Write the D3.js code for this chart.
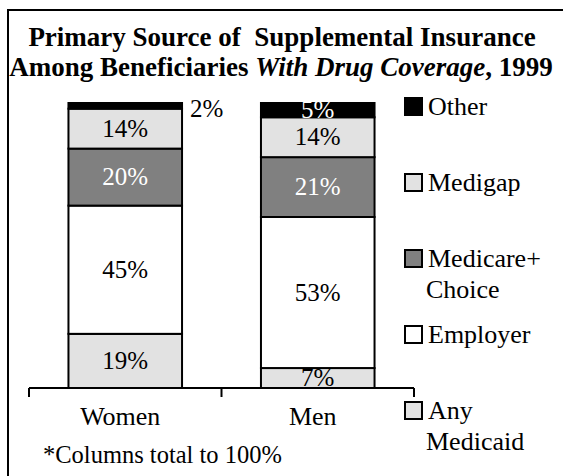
<!DOCTYPE html>
<html>
<head>
<meta charset="utf-8">
<script src="https://cdn.jsdelivr.net/npm/d3@7"></script>
<style>
  body { margin: 0; background: #fff; }
</style>
</head>
<body>
<svg id="chart" width="563" height="476" font-family="'Liberation Serif', 'Times New Roman', Times, serif"></svg>
<script>
// data (percent of beneficiaries, stacked bottom to top)
const categories = ["Women", "Men"]
const sources = ["Any Medicaid", "Employer", "Medicare+ Choice", "Medigap", "Other"]
const womenValues = [19, 45, 20, 14, 2]
const menValues = [7, 53, 21, 14, 5]
const legendLines = [["Any", "Medicaid"], ["Employer"], ["Medicare+", "Choice"], ["Medigap"], ["Other"]]

const fills = ["#e2e2e2", "#ffffff", "#808080", "#e2e2e2", "#000000"]
const labelFills = ["#000", "#000", "#fff", "#000", "#fff"]

const svg = d3.select("#chart")

// outer frame (runs off the right and bottom edges like the slide)
svg.append("rect")
    .attr("x", 8).attr("y", 10)
    .attr("width", 600).attr("height", 520)
    .attr("fill", "none").attr("stroke", "#000").attr("stroke-width", 2)

// title
const title = svg.append("text")
    .attr("text-anchor", "middle")
    .style("font-size", "27px")
    .style("font-weight", "bold")
title.append("tspan").attr("x", 282).attr("y", 46)
    .style("white-space", "pre")
    .text("Primary Source of  Supplemental Insurance")
const line2 = title.append("tspan").attr("x", 281).attr("y", 76)
line2.append("tspan").text("Among Beneficiaries ")
line2.append("tspan").style("font-style", "italic").text("With Drug Coverage")
line2.append("tspan").text(", 1999")

const x = d3.scaleBand().domain(categories).range([29, 414]).paddingInner(0).paddingOuter(0)
const y = d3.scaleLinear().domain([0, 100]).range([388, 103])
const barW = x.bandwidth() * 0.59

const rows = categories.map((c, i) => {
    const vals = i === 0 ? womenValues : menValues
    let acc = 0
    return {
        cat: c,
        segs: vals.map((v, j) => {
            const s = {cat: c, key: sources[j], idx: j, v: v, y0: acc, y1: acc + v}
            acc += v
            return s
        })
    }
})

const barX = c => x(c) + (x.bandwidth() - barW) / 2

const bar = svg.selectAll(".bar")
    .data(rows)
    .enter().append("g")
    .attr("class", "bar")

bar.selectAll("rect")
    .data(d => d.segs)
    .enter().append("rect")
    .attr("x", d => barX(d.cat))
    .attr("y", d => y(d.y1))
    .attr("width", barW)
    .attr("height", d => y(d.y0) - y(d.y1))
    .attr("fill", d => fills[d.idx])
    .attr("stroke", "#000")
    .attr("stroke-width", 2)

// segment labels (tiny ones sit outside to the right)
bar.selectAll("text")
    .data(d => d.segs)
    .enter().append("text")
    .attr("x", d => (d.v < 3 ? barX(d.cat) + barW + 8 : barX(d.cat) + barW / 2))
    .attr("y", d => (d.v < 3 ? y(d.y1) + 14 : (y(d.y0) + y(d.y1)) / 2 + 8))
    .attr("text-anchor", d => (d.v < 3 ? "start" : "middle"))
    .attr("fill", d => (d.v < 3 ? "#000" : labelFills[d.idx]))
    .style("font-size", "25px")
    .text(d => d.v + "%")

// category axis with ticks at band edges
const axis = svg.append("g")
axis.append("line")
    .attr("x1", x.range()[0]).attr("x2", x.range()[1])
    .attr("y1", y(0)).attr("y2", y(0))
    .attr("stroke", "#000").attr("stroke-width", 2)
const edges = categories.map(c => x(c)).concat([x.range()[1]])
axis.selectAll(".tick")
    .data(edges)
    .enter().append("line")
    .attr("x1", d => d).attr("x2", d => d)
    .attr("y1", y(0)).attr("y2", y(0) + 9)
    .attr("stroke", "#000").attr("stroke-width", 2)

svg.selectAll(".cat")
    .data(categories)
    .enter().append("text")
    .attr("class", "cat")
    .attr("x", d => barX(d) + barW / 2 - 5)
    .attr("y", y(0) + 37)
    .attr("text-anchor", "middle")
    .style("font-size", "26px")
    .text(d => d)

svg.append("text")
    .attr("x", 43).attr("y", 463)
    .style("font-size", "24.5px")
    .text("*Columns total to 100%")

// legend, top to bottom in reverse stack order
const legend = svg.selectAll(".legend")
    .data(sources.map((s, i) => i).reverse())
    .enter().append("g")
    .attr("class", "legend")
    .attr("transform", (d, i) => "translate(405," + (115 + i * 76) + ")")

legend.append("rect")
    .attr("x", 0).attr("y", -17)
    .attr("width", 17).attr("height", 17)
    .attr("fill", d => fills[d])
    .attr("stroke", "#000").attr("stroke-width", 2)

legend.append("text")
    .style("font-size", "26px")
    .selectAll("tspan")
    .data(d => legendLines[d])
    .enter().append("tspan")
    .attr("x", (d, i) => (i === 0 ? 23 : 21))
    .attr("y", (d, i) => i * 31)
    .text(d => d)
</script>
</body>
</html>
